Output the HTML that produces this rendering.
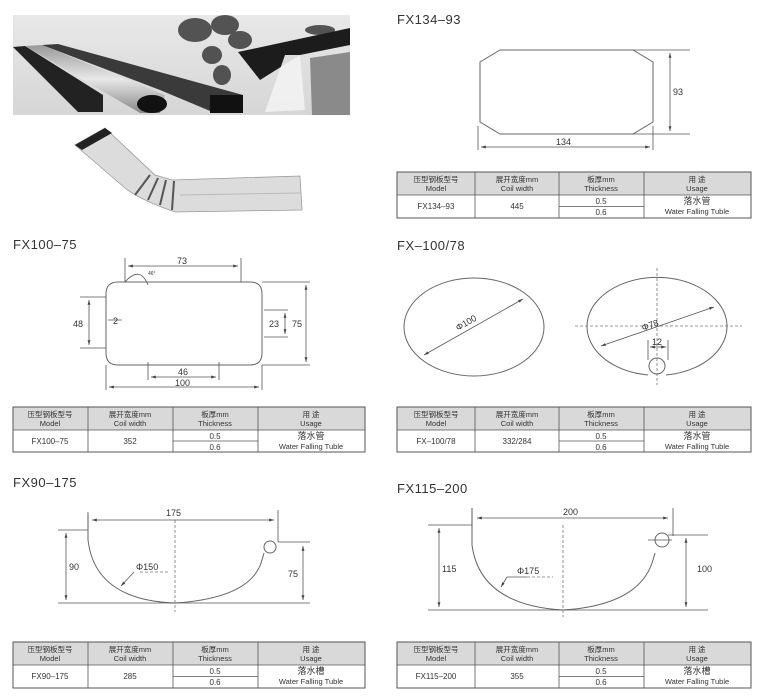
<!DOCTYPE html>
<html><head><meta charset="utf-8"><style>
html,body{margin:0;padding:0;background:#fff}
svg{display:block}
text{font-family:"Liberation Sans","Noto Sans CJK SC",sans-serif;fill:#333}
.t{font-size:13px;letter-spacing:0.5px}
.d{font-size:9px}
.ln{stroke:#555;stroke-width:0.8;fill:none}
.sh{stroke:#666;stroke-width:1;fill:none}
.ds{stroke:#777;stroke-width:0.8;stroke-dasharray:3,2;fill:none}
</style></head><body>
<svg width="768" height="697" viewBox="0 0 768 697" xmlns="http://www.w3.org/2000/svg">
<defs>
<marker id="a" viewBox="0 0 10 10" refX="10" refY="5" markerWidth="6" markerHeight="6" orient="auto-start-reverse"><path d="M0,2 L10,5 L0,8 z" fill="#444"/></marker>
<linearGradient id="sky" x1="0" y1="0" x2="0" y2="1"><stop offset="0" stop-color="#e8e8e8"/><stop offset="1" stop-color="#d6d6d6"/></linearGradient>
<linearGradient id="pipe" x1="0" y1="0" x2="0" y2="1"><stop offset="0" stop-color="#999"/><stop offset="0.5" stop-color="#e8e8e8"/><stop offset="1" stop-color="#888"/></linearGradient>
</defs>

<!-- photo -->
<rect x="13" y="15" width="337" height="100" fill="url(#sky)"/>
<g fill="#3a3a3a" opacity="0.85">
<ellipse cx="195" cy="30" rx="17" ry="12"/>
<ellipse cx="225" cy="25" rx="14" ry="10"/>
<ellipse cx="240" cy="40" rx="12" ry="9"/>
<ellipse cx="212" cy="55" rx="10" ry="9"/>
<ellipse cx="222" cy="75" rx="9" ry="10"/>
<ellipse cx="320" cy="30" rx="15" ry="5"/>
</g>
<path d="M238,52 L350,28 L350,45 L300,55 L260,80 Z" fill="#1c1c1c"/>
<path d="M310,58 L350,52 L350,115 L312,115 Z" fill="#8a8a8a"/>
<path d="M285,55 L300,55 L305,110 L265,112 Z" fill="#f2f2f2" opacity="0.9"/>
<path d="M13,47 L25,46 L103,95 L103,112 L78,112 Z" fill="#222"/>
<path d="M25,46 L42,45 L165,95 L160,113 L140,113 Z" fill="url(#pipe)"/>
<ellipse cx="152" cy="104" rx="15" ry="9" fill="#111"/>
<path d="M42,45 L58,44 L243,95 L243,113 L215,113 L160,90 Z" fill="#3a3a3a"/>
<rect x="210" y="95" width="33" height="18" fill="#111"/>
<!-- elbow -->
<path d="M75,145 L105,128 L155,175 L172,180 L300,176 L302,210 L175,212 Q140,200 125,188 Z" fill="#dcdcdc" stroke="#999" stroke-width="0.8"/>
<path d="M75,145 L105,128 L112,133 L82,150 Z" fill="#222"/>
<path d="M150,175 L135,195 M158,178 L148,200 M166,180 L160,205 M174,181 L172,210" stroke="#555" stroke-width="2"/>
<path d="M180,195 L300,193" stroke="#bbb"/>

<!-- titles -->
<text x="397" y="24" class="t">FX134–93</text>
<text x="13" y="249" class="t">FX100–75</text>
<text x="397" y="250" class="t">FX–100/78</text>
<text x="13" y="487" class="t">FX90–175</text>
<text x="397" y="493" class="t">FX115–200</text>

<!-- FX134-93 drawing -->
<path class="sh" d="M500,50 L633,50 L653,62 L653,122 L633,134 L500,134 L480,122 L480,62 Z"/>
<path class="ln" d="M633,50 L690,50 M633,134 L690,134 M478,126 L478,150 M653,126 L653,150"/>
<line class="ln" x1="670" y1="53" x2="670" y2="131" marker-start="url(#a)" marker-end="url(#a)"/>
<line class="ln" x1="481" y1="147" x2="650" y2="147" marker-start="url(#a)" marker-end="url(#a)"/>
<text x="673" y="95" class="d">93</text>
<text x="556" y="145" class="d">134</text>

<!-- FX100-75 drawing -->
<path class="sh" d="M118,282 L250,282 Q262,282 262,294 L262,353 Q262,365 250,365 L118,365 Q106,365 106,353 L106,294 Q106,282 118,282 Z"/>
<path class="ln" d="M125,258 L125,282 M241,258 L241,282 M80,297 L106,297 M80,348 L106,348 M264,310 L288,310 M264,337 L288,337 M262,282 L310,282 M262,365 L310,365 M148,362 L148,380 M219,362 L219,380 M106,365 L106,390 M262,365 L262,390 M108,320 L122,320"/>
<path class="ln" d="M125,282 Q140,265 148,285"/>
<line class="ln" x1="128" y1="266" x2="238" y2="266" marker-start="url(#a)" marker-end="url(#a)"/>
<line class="ln" x1="89" y1="300" x2="89" y2="345" marker-start="url(#a)" marker-end="url(#a)"/>
<line class="ln" x1="285" y1="313" x2="285" y2="334" marker-start="url(#a)" marker-end="url(#a)"/>
<line class="ln" x1="306" y1="285" x2="306" y2="362" marker-start="url(#a)" marker-end="url(#a)"/>
<line class="ln" x1="151" y1="377" x2="216" y2="377" marker-start="url(#a)" marker-end="url(#a)"/>
<line class="ln" x1="109" y1="387" x2="259" y2="387" marker-start="url(#a)" marker-end="url(#a)"/>
<text x="177" y="264" class="d">73</text>
<text x="148" y="275" style="font-size:5px">46°</text>
<text x="73" y="327" class="d">48</text>
<text x="113" y="324" class="d">2</text>
<text x="269" y="327" class="d">23</text>
<text x="292" y="327" class="d">75</text>
<text x="178" y="375" class="d">46</text>
<text x="175" y="386" class="d">100</text>

<!-- FX-100/78 drawing -->
<ellipse class="sh" cx="474" cy="327" rx="70" ry="49"/>
<line class="ln" x1="424" y1="355" x2="523" y2="299" marker-start="url(#a)" marker-end="url(#a)"/>
<text x="0" y="0" class="d" transform="translate(458,331) rotate(-30)">Φ100</text>
<path class="sh" d="M648,375 A70,49 0 1 1 666,375"/>
<circle class="sh" cx="657" cy="366" r="8"/>
<path class="ds" d="M575,326 L742,326 M657,268 L657,385"/>
<line class="ln" x1="601" y1="346" x2="714" y2="307" marker-start="url(#a)" marker-end="url(#a)"/>
<text x="0" y="0" class="d" transform="translate(643,331) rotate(-20)">Φ78</text>
<path class="ln" d="M648,340 L648,360 M668,340 L668,360"/>
<line class="ln" x1="650" y1="347" x2="666" y2="347" marker-start="url(#a)" marker-end="url(#a)"/>
<text x="652" y="345" class="d">12</text>

<!-- FX90-175 -->
<path class="sh" d="M88,514 L88,540 Q95,600 175,603 Q252,598 262,560 L264,553"/>
<circle class="sh" cx="270" cy="547" r="6"/>
<path class="ln" d="M88,512 L88,528 M278,510 L278,542 M58,530 L88,530 M58,603 L310,603 M278,542 L310,542"/>
<path class="ds" d="M175,520 L175,612 M140,572 L168,572"/>
<line class="ln" x1="92" y1="520" x2="274" y2="520" marker-start="url(#a)" marker-end="url(#a)"/>
<line class="ln" x1="66" y1="533" x2="66" y2="600" marker-start="url(#a)" marker-end="url(#a)"/>
<line class="ln" x1="303" y1="546" x2="303" y2="600" marker-start="url(#a)" marker-end="url(#a)"/>
<line class="ln" x1="134" y1="572" x2="121" y2="586" marker-end="url(#a)"/>
<text x="166" y="516" class="d">175</text>
<text x="69" y="570" class="d">90</text>
<text x="288" y="577" class="d">75</text>
<text x="136" y="570" class="d">Φ150</text>

<!-- FX115-200 -->
<path class="sh" d="M472,508 L472,545 Q480,605 563,610 Q640,605 653,560 L655,553"/>
<circle class="sh" cx="662" cy="540" r="7"/>
<path class="ln" d="M472,508 L472,528 M673,508 L673,536 M428,525 L472,525 M428,610 L708,610 M668,535 L708,535 M648,540 L672,540"/>
<path class="ds" d="M563,525 L563,617 M527,577 L553,577"/>
<line class="ln" x1="477" y1="518" x2="668" y2="518" marker-start="url(#a)" marker-end="url(#a)"/>
<line class="ln" x1="439" y1="528" x2="439" y2="607" marker-start="url(#a)" marker-end="url(#a)"/>
<line class="ln" x1="686" y1="538" x2="686" y2="607" marker-start="url(#a)" marker-end="url(#a)"/>
<line class="ln" x1="507" y1="577" x2="501" y2="587" marker-end="url(#a)"/>
<path class="ln" d="M507,577 L527,577"/>
<text x="563" y="515" class="d">200</text>
<text x="442" y="572" class="d">115</text>
<text x="697" y="572" class="d">100</text>
<text x="517" y="574" class="d">Φ175</text>

<!-- tables -->
<g transform="translate(397,172)">
<rect x="0" y="0" width="354" height="23" fill="#d9d9d9"/>
<rect x="0" y="0" width="354" height="46" fill="none" stroke="#555" stroke-width="1"/>
<path d="M0,23 L354,23 M78,0 L78,46 M162,0 L162,46 M247,0 L247,46 M162,34.5 L247,34.5" stroke="#555" stroke-width="0.8"/>
<g style="font-size:7.5px" text-anchor="middle">
<text x="39" y="10">压型钢板型号</text><text x="39" y="19">Model</text>
<text x="120" y="10">展开宽度mm</text><text x="120" y="19">Coil width</text>
<text x="204" y="10">板厚mm</text><text x="204" y="19">Thickness</text>
<text x="300" y="10">用  途</text><text x="300" y="19">Usage</text>
<text x="39" y="37" style="font-size:8px">FX134–93</text>
<text x="120" y="37" style="font-size:8px">445</text>
<text x="204" y="32" style="font-size:8px">0.5</text>
<text x="204" y="43" style="font-size:8px">0.6</text>
<text x="300" y="32" style="font-size:9px">落水管</text>
<text x="300" y="42">Water Falling Tuble</text>
</g></g>

<g transform="translate(13,407)">
<rect x="0" y="0" width="352" height="23" fill="#d9d9d9"/>
<rect x="0" y="0" width="352" height="45" fill="none" stroke="#555" stroke-width="1"/>
<path d="M0,23 L352,23 M75,0 L75,45 M160,0 L160,45 M245,0 L245,45 M160,34 L245,34" stroke="#555" stroke-width="0.8"/>
<g style="font-size:7.5px" text-anchor="middle">
<text x="37" y="10">压型钢板型号</text><text x="37" y="19">Model</text>
<text x="117" y="10">展开宽度mm</text><text x="117" y="19">Coil width</text>
<text x="202" y="10">板厚mm</text><text x="202" y="19">Thickness</text>
<text x="298" y="10">用  途</text><text x="298" y="19">Usage</text>
<text x="37" y="37" style="font-size:8px">FX100–75</text>
<text x="117" y="37" style="font-size:8px">352</text>
<text x="202" y="32" style="font-size:8px">0.5</text>
<text x="202" y="43" style="font-size:8px">0.6</text>
<text x="298" y="32" style="font-size:9px">落水管</text>
<text x="298" y="42">Water Falling Tuble</text>
</g></g>

<g transform="translate(397,407)">
<rect x="0" y="0" width="354" height="23" fill="#d9d9d9"/>
<rect x="0" y="0" width="354" height="45" fill="none" stroke="#555" stroke-width="1"/>
<path d="M0,23 L354,23 M78,0 L78,45 M162,0 L162,45 M247,0 L247,45 M162,34 L247,34" stroke="#555" stroke-width="0.8"/>
<g style="font-size:7.5px" text-anchor="middle">
<text x="39" y="10">压型钢板型号</text><text x="39" y="19">Model</text>
<text x="120" y="10">展开宽度mm</text><text x="120" y="19">Coil width</text>
<text x="204" y="10">板厚mm</text><text x="204" y="19">Thickness</text>
<text x="300" y="10">用  途</text><text x="300" y="19">Usage</text>
<text x="39" y="37" style="font-size:8px">FX–100/78</text>
<text x="120" y="37" style="font-size:8px">332/284</text>
<text x="204" y="32" style="font-size:8px">0.5</text>
<text x="204" y="43" style="font-size:8px">0.6</text>
<text x="300" y="32" style="font-size:9px">落水管</text>
<text x="300" y="42">Water Falling Tuble</text>
</g></g>

<g transform="translate(13,642)">
<rect x="0" y="0" width="352" height="23" fill="#d9d9d9"/>
<rect x="0" y="0" width="352" height="46" fill="none" stroke="#555" stroke-width="1"/>
<path d="M0,23 L352,23 M75,0 L75,46 M160,0 L160,46 M245,0 L245,46 M160,34.5 L245,34.5" stroke="#555" stroke-width="0.8"/>
<g style="font-size:7.5px" text-anchor="middle">
<text x="37" y="10">压型钢板型号</text><text x="37" y="19">Model</text>
<text x="117" y="10">展开宽度mm</text><text x="117" y="19">Coil width</text>
<text x="202" y="10">板厚mm</text><text x="202" y="19">Thickness</text>
<text x="298" y="10">用  途</text><text x="298" y="19">Usage</text>
<text x="37" y="37" style="font-size:8px">FX90–175</text>
<text x="117" y="37" style="font-size:8px">285</text>
<text x="202" y="32" style="font-size:8px">0.5</text>
<text x="202" y="43" style="font-size:8px">0.6</text>
<text x="298" y="32" style="font-size:9px">落水槽</text>
<text x="298" y="42">Water Falling Tuble</text>
</g></g>

<g transform="translate(397,642)">
<rect x="0" y="0" width="354" height="23" fill="#d9d9d9"/>
<rect x="0" y="0" width="354" height="46" fill="none" stroke="#555" stroke-width="1"/>
<path d="M0,23 L354,23 M78,0 L78,46 M162,0 L162,46 M247,0 L247,46 M162,34.5 L247,34.5" stroke="#555" stroke-width="0.8"/>
<g style="font-size:7.5px" text-anchor="middle">
<text x="39" y="10">压型钢板型号</text><text x="39" y="19">Model</text>
<text x="120" y="10">展开宽度mm</text><text x="120" y="19">Coil width</text>
<text x="204" y="10">板厚mm</text><text x="204" y="19">Thickness</text>
<text x="300" y="10">用  途</text><text x="300" y="19">Usage</text>
<text x="39" y="37" style="font-size:8px">FX115–200</text>
<text x="120" y="37" style="font-size:8px">355</text>
<text x="204" y="32" style="font-size:8px">0.5</text>
<text x="204" y="43" style="font-size:8px">0.6</text>
<text x="300" y="32" style="font-size:9px">落水槽</text>
<text x="300" y="42">Water Falling Tuble</text>
</g></g>
</svg>
</body></html>
